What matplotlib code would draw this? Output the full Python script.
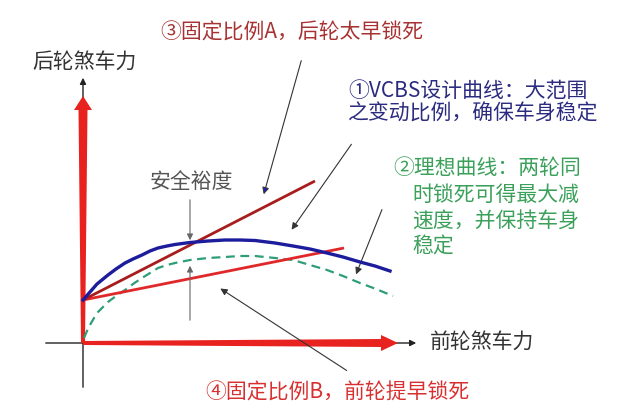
import numpy as np
import matplotlib
matplotlib.use("Agg")
from matplotlib import pyplot as plt

plt.rcParams['font.family'] = ['Noto Sans CJK SC', 'DejaVu Sans']

# curve data (x = front braking force, y = rear braking force, pixel-like units)
vcbs_x = [0, 7, 14, 25, 33, 42, 50, 59, 67, 75, 84, 92, 107, 125, 142, 157,
          172, 192, 210, 227, 244, 260, 277, 292, 307]
vcbs_y = [43, 51, 59, 68, 74, 80, 84, 88, 92, 95, 97, 98.5, 100.5, 102, 103, 103,
          102.5, 100, 97, 94, 90, 86, 81, 77, 72]

ideal_x = [1, 4, 7, 11, 15, 20, 25, 33, 42, 50, 59, 67, 75, 84, 92, 107, 125,
           142, 157, 172, 192, 210, 227, 244, 260, 277, 293, 310]
ideal_y = [5, 12, 18, 25, 31, 36, 41, 47, 53, 59, 65, 70, 75, 78, 80, 83, 85,
           86, 87, 87, 85, 83, 78, 73, 67, 60, 54, 47]

fixed_a_x = [0, 232]
fixed_a_y = [43, 162]
fixed_b_x = [0, 261]
fixed_b_y = [43, 95]

label_y_axis = '后轮煞车力'
label_x_axis = '前轮煞车力'
note_a = '③固定比例A，后轮太早锁死'
note_vcbs = ['①VCBS设计曲线：大范围', '之变动比例，确保车身稳定']
note_ideal = ['②理想曲线：两轮同', '时锁死可得最大减', '速度，并保持车身', '稳定']
note_b = '④固定比例B，前轮提早锁死'
note_margin = '安全裕度'


def tapered_arrow(ax, start, end, w0, w1, hw, hl, color):
    p0 = np.array(start, float)
    p1 = np.array(end, float)
    d = p1 - p0
    L = np.hypot(*d)
    u = d / L
    n = np.array([-u[1], u[0]])
    b = p1 - u * hl
    pts = [p0 + n * w0 / 2, b + n * w1 / 2, b + n * hw / 2, p1,
           b - n * hw / 2, b - n * w1 / 2, p0 - n * w0 / 2]
    pts = np.array(pts)
    ax.fill(pts[:, 0], pts[:, 1], color=color, lw=0, zorder=3)


fig = plt.figure(figsize=(6.4, 4.17), dpi=100)
ax = fig.add_axes([0, 0, 1, 1])
ax.set_xlim(-83, 557)
ax.set_ylim(-74, 343)
ax.axis('off')

# thin black axes
ax.annotate('', xy=(0, 268), xytext=(0, -47),
            arrowprops=dict(arrowstyle='-|>', color='#222222', lw=1.0, mutation_scale=9))
ax.annotate('', xy=(336, 0), xytext=(-40, 0),
            arrowprops=dict(arrowstyle='-|>', color='#222222', lw=1.0, mutation_scale=9))

# thick red arrows
tapered_arrow(ax, (0, 0), (0, 247), 4, 9, 18, 14, '#e8231f')
tapered_arrow(ax, (0, 0), (315, 0), 4, 8, 16, 17, '#e8231f')

# curves
ax.plot(ideal_x, ideal_y, color='#2e9e78', lw=1.6, ls=(0, (4, 2.5)), zorder=4)
ax.plot(fixed_b_x, fixed_b_y, color='#e0282a', lw=2.0, zorder=5, solid_capstyle='butt')
ax.plot(fixed_a_x, fixed_a_y, color='#a81c1c', lw=2.0, zorder=5, solid_capstyle='butt')
ax.plot(vcbs_x, vcbs_y, color='#1c1c9c', lw=2.4, zorder=6)

# annotation arrows
arr = dict(arrowstyle='-|>', color='#333333', lw=0.8, mutation_scale=10)
gray = dict(arrowstyle='-|>', color='#666666', lw=0.8, mutation_scale=9)
ax.annotate('', xy=(107, 100), xytext=(107, 146), arrowprops=gray, zorder=7)
ax.annotate('', xy=(107, 80), xytext=(107, 20), arrowprops=gray, zorder=7)
ax.annotate('', xy=(180, 146), xytext=(219, 285),
            arrowprops=dict(arrowstyle='-|>', ec='#333333', fc='#2020c0', lw=0.8, mutation_scale=10))
ax.annotate('', xy=(207, 111), xytext=(270, 201), arrowprops=arr)
ax.annotate('', xy=(272, 66), xytext=(300, 136), arrowprops=arr)
ax.annotate('', xy=(135, 56), xytext=(266, -29), arrowprops=arr)

# texts
fs = 15
ax.text(-51, 281, label_y_axis, fontsize=fs, color='#333333', va='center')
ax.text(347, 1, label_x_axis, fontsize=fs, color='#333333', va='center')
ax.text(77, 310, note_a, fontsize=fs, color='#a83232', va='center')
ax.text(122, -50, note_b, fontsize=fs, color='#d83030', va='center')
ax.text(67, 161, note_margin, fontsize=fs, color='#555555', va='center')

for i, line in enumerate(note_vcbs):
    ax.text(265, 251 - i * 22, line, fontsize=fs, color='#2b2b80', va='center')

ideal_pos = [(310, 175), (329, 148), (329, 121), (329, 96)]
for (tx, ty), line in zip(ideal_pos, note_ideal):
    ax.text(tx, ty, line, fontsize=fs, color='#3aa05a', va='center')

fig.savefig('out.png', dpi=100)
